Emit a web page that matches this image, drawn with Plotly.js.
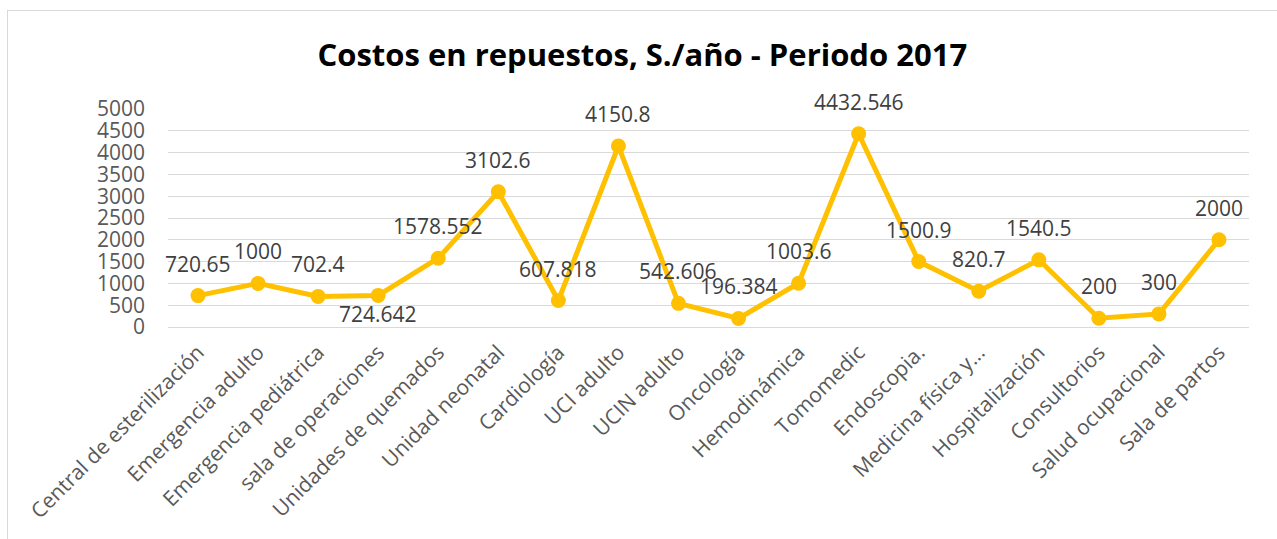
<!DOCTYPE html>
<html>
<head>
<meta charset="utf-8">
<script src="https://cdn.plot.ly/plotly-3.0.1.min.js"></script>
<style>
  html, body { margin: 0; padding: 0; background: #fff; overflow: hidden; }
  #frame { position: absolute; left: 7px; top: 10px; width: 1300px; height: 600px; border: 1px solid #d9d9d9; box-sizing: border-box; }
  #chart { position: absolute; left: 0; top: 0; width: 1277px; height: 539px; }
</style>
</head>
<body>
<div id="frame"></div>
<div id="chart"></div>
<script>
const categories = [
  "Central de esterilización", "Emergencia adulto", "Emergencia pediátrica",
  "sala de operaciones", "Unidades de quemados", "Unidad neonatal",
  "Cardiología", "UCI adulto", "UCIN adulto", "Oncología", "Hemodinámica",
  "Tomomedic", "Endoscopia.", "Medicina física y...", "Hospitalización",
  "Consultorios", "Salud ocupacional", "Sala de partos"
];
const costs = [720.65, 1000, 702.4, 724.642, 1578.552, 3102.6, 607.818, 4150.8,
  542.606, 196.384, 1003.6, 4432.546, 1500.9, 820.7, 1540.5, 200, 300, 2000];
const labelTexts = ["720.65", "1000", "702.4", "724.642", "1578.552", "3102.6",
  "607.818", "4150.8", "542.606", "196.384", "1003.6", "4432.546", "1500.9",
  "820.7", "1540.5", "200", "300", "2000"];
const labelBelow = [false, false, false, true, false, false, false, false, false,
  false, false, false, false, false, false, false, false, false];
const yTicks = [0, 500, 1000, 1500, 2000, 2500, 3000, 3500, 4000, 4500, 5000];

const font = "'Open Sans', 'Noto Sans', sans-serif";
const idx = categories.map((c, i) => i);

const trace = {
  type: "scatter",
  mode: "lines+markers",
  x: idx,
  y: costs,
  line: { color: "#FFC000", width: 5 },
  marker: { color: "#FFC000", size: 15 },
  hoverinfo: "skip",
  showlegend: false
};

const annotations = costs.map((v, i) => ({
  x: i, y: v, xref: "x", yref: "y",
  text: labelTexts[i],
  showarrow: false,
  yshift: labelBelow[i] ? -19 : 32,
  font: { family: font, size: 21, color: "#404040" }
}));

const layout = {
  width: 1277, height: 539,
  paper_bgcolor: "rgba(0,0,0,0)",
  plot_bgcolor: "rgba(0,0,0,0)",
  margin: { l: 168, r: 28, t: 109, b: 212 },
  title: {
    text: "<b>Costos en repuestos, S./año - Periodo 2017</b>",
    x: 0.503, xanchor: "center",
    y: 1 - 55 / 539, yref: "container", yanchor: "middle",
    font: { family: font, size: 31, color: "#000000" }
  },
  xaxis: {
    type: "linear",
    range: [-0.5, categories.length - 0.5],
    tickmode: "array",
    tickvals: idx,
    ticktext: categories,
    tickangle: -45,
    showgrid: false,
    zeroline: false,
    showline: false,
    ticks: "",
    ticklabelstandoff: 8,
    tickfont: { family: font, size: 21, color: "#595959" }
  },
  yaxis: {
    range: [0, 5000],
    tickmode: "array",
    tickvals: yTicks,
    ticktext: yTicks.map(String),
    showgrid: true,
    gridcolor: "#d9d9d9",
    gridwidth: 1,
    zeroline: true,
    zerolinecolor: "#d9d9d9",
    showline: false,
    ticks: "",
    ticklabelstandoff: 22,
    tickfont: { family: font, size: 21, color: "#595959" }
  },
  annotations: annotations
};

Plotly.newPlot("chart", [trace], layout, { displayModeBar: false, staticPlot: true });
</script>
</body>
</html>
